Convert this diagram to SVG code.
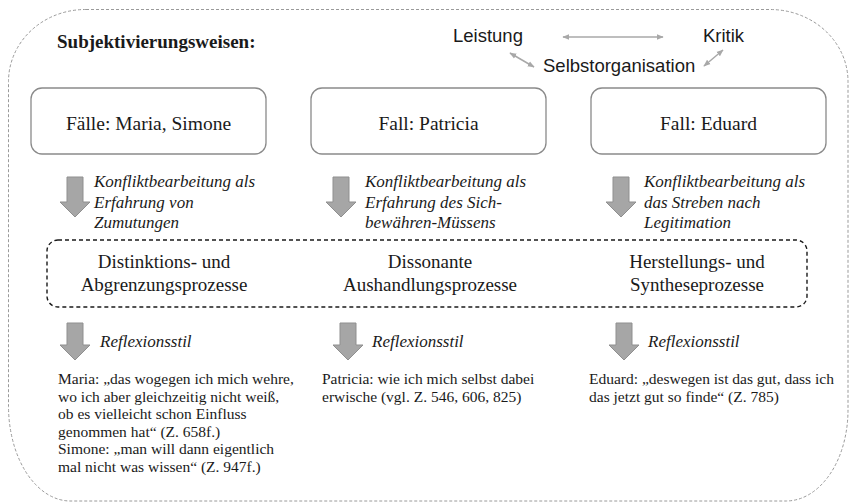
<svg xmlns="http://www.w3.org/2000/svg" width="855" height="503" viewBox="0 0 855 503">
<defs>
<style>
.serif{font-family:"Liberation Serif","Times New Roman",serif;fill:#1a1a1a}
.box{fill:#fff;stroke:#8a8a8a;stroke-width:1.3}
.bt{font-size:19.5px;text-anchor:middle}
.it{font-style:italic;font-size:17px}
.q{font-size:15.5px}
.sans{font-family:"Liberation Sans",Arial,sans-serif;font-size:18.5px;fill:#1a1a1a}
.blk{fill:#a6a6a6;stroke:#8f8f8f;stroke-width:1}
.thin{stroke:#a8a8a8;stroke-width:1.5;fill:none;marker-start:url(#ah);marker-end:url(#ah)}
</style>
<marker id="ah" viewBox="0 0 10 10" refX="9" refY="5" markerWidth="7" markerHeight="7" orient="auto-start-reverse" markerUnits="userSpaceOnUse">
<path d="M0,1 L10,5 L0,9 Z" fill="#a8a8a8"/>
</marker>
<path id="down" d="M-8,0 H8 V25 H15 L0,40 L-15,25 H-8 Z"/>
<path id="down2" d="M-8,0 H8 V22 H15 L0,37 L-15,22 H-8 Z"/>
</defs>

<g id="frame">
<path d="M86 9.5 H770 A78 72 0 0 1 848 81.5 V410 A62 91 0 0 1 786 501 H70 A62 95 0 0 1 8.5 406 V81.5 A77 72 0 0 1 86 9.5 Z" fill="none" stroke="#9a9a9a" stroke-width="1" stroke-dasharray="3 2"/>
</g>

<g id="title">
<text class="serif" x="57" y="48" font-size="19" font-weight="bold">Subjektivierungsweisen:</text>
</g>

<g id="leistung"><text class="sans" x="453" y="42">Leistung</text></g>
<g id="kritik"><text class="sans" x="703" y="42">Kritik</text></g>
<g id="selbstorganisation"><text class="sans" x="543" y="72">Selbstorganisation</text></g>

<g id="case-maria-simone">
<rect class="box" x="31" y="88" width="235" height="66" rx="11"/>
<text class="serif bt" x="148.5" y="130">Fälle: Maria, Simone</text>
</g>
<g id="case-patricia">
<rect class="box" x="311" y="88" width="235" height="66" rx="11"/>
<text class="serif bt" x="428.5" y="130">Fall: Patricia</text>
</g>
<g id="case-eduard">
<rect class="box" x="591" y="88" width="235" height="66" rx="11"/>
<text class="serif bt" x="708.5" y="130">Fall: Eduard</text>
</g>

<g id="prozesse">
<rect x="47" y="240" width="760" height="67" rx="11" fill="none" stroke="#1a1a1a" stroke-width="1.4" stroke-dasharray="4 3"/>
<text class="serif" font-size="19" text-anchor="middle"><tspan x="164" y="267.5">Distinktions- und</tspan><tspan x="164" y="290.5">Abgrenzungsprozesse</tspan></text>
<text class="serif" font-size="19" text-anchor="middle"><tspan x="430" y="267.5">Dissonante</tspan><tspan x="430" y="290.5">Aushandlungsprozesse</tspan></text>
<text class="serif" font-size="19" text-anchor="middle"><tspan x="697" y="267.5">Herstellungs- und</tspan><tspan x="697" y="290.5">Syntheseprozesse</tspan></text>
</g>

<g id="zitat-maria-simone">
<text class="serif q"><tspan x="58" y="384">Maria: „das wogegen ich mich wehre,</tspan><tspan x="58" y="401.5">wo ich aber gleichzeitig nicht weiß,</tspan><tspan x="58" y="419">ob es vielleicht schon Einfluss</tspan><tspan x="58" y="436.5">genommen hat“ (Z. 658f.)</tspan><tspan x="58" y="454">Simone: „man will dann eigentlich</tspan><tspan x="58" y="471.5">mal nicht was wissen“ (Z. 947f.)</tspan></text>
</g>
<g id="zitat-patricia">
<text class="serif q"><tspan x="322" y="384">Patricia: wie ich mich selbst dabei</tspan><tspan x="322" y="401.5">erwische (vgl. Z. 546, 606, 825)</tspan></text>
</g>
<g id="zitat-eduard">
<text class="serif q"><tspan x="589" y="384">Eduard: „deswegen ist das gut, dass ich</tspan><tspan x="589" y="401.5">das jetzt gut so finde“ (Z. 785)</tspan></text>
</g>

<g id="connectors">
<line class="thin" x1="563" y1="37" x2="663" y2="37"/>
<line class="thin" x1="510" y1="53" x2="534" y2="67"/>
<line class="thin" x1="704" y1="66" x2="723" y2="50"/>

<use href="#down" class="blk" x="75" y="177"/>
<use href="#down" class="blk" x="341" y="177"/>
<use href="#down" class="blk" x="621" y="177"/>
<use href="#down2" class="blk" x="75" y="323"/>
<use href="#down2" class="blk" x="348" y="323"/>
<use href="#down2" class="blk" x="624" y="323"/>

<text class="serif it"><tspan x="94" y="187">Konfliktbearbeitung als</tspan><tspan x="94" y="207.5">Erfahrung von</tspan><tspan x="94" y="228">Zumutungen</tspan></text>
<text class="serif it"><tspan x="365" y="187">Konfliktbearbeitung als</tspan><tspan x="365" y="207.5">Erfahrung des Sich-</tspan><tspan x="365" y="228">bewähren-Müssens</tspan></text>
<text class="serif it"><tspan x="644" y="187">Konfliktbearbeitung als</tspan><tspan x="644" y="207.5">das Streben nach</tspan><tspan x="644" y="228">Legitimation</tspan></text>
<text class="serif it" x="100" y="347">Reflexionsstil</text>
<text class="serif it" x="372" y="347">Reflexionsstil</text>
<text class="serif it" x="648" y="347">Reflexionsstil</text>
</g>
</svg>
